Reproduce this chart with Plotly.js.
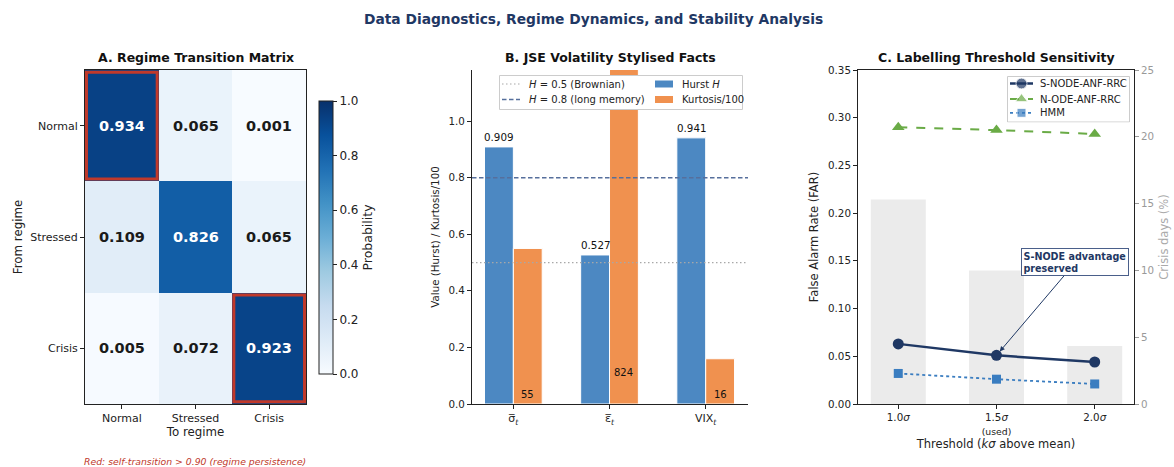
<!DOCTYPE html>
<html><head><meta charset="utf-8">
<script src="https://cdn.plot.ly/plotly-3.0.1.min.js"></script>
<style>html,body{margin:0;padding:0;background:#fff}#chart{width:1174px;height:467px}</style>
</head><body><div id="chart"></div>
<script>
// ---------- data ----------
const regimes = ['Normal', 'Stressed', 'Crisis'];
const transitionProbs = [
  [0.934, 0.065, 0.001],
  [0.109, 0.826, 0.065],
  [0.005, 0.072, 0.923]
];
const persistenceThreshold = 0.90;

const volSeriesLabels = ['σ\u0305<sub><i>t</i></sub>', 'ε\u0305<sub><i>t</i></sub>', 'VIX<sub><i>t</i></sub>'];
const hurstH = [0.909, 0.527, 0.941];
const kurtosis = [55, 824, 16];
const brownianH = 0.5;
const longMemoryH = 0.8;

const thresholdLabels = ['1.0<i>σ</i>', '1.5<i>σ</i><br><span style="font-size:9.3px">(used)</span>', '2.0<i>σ</i>'];
const crisisDaysPct = [15.3, 10.0, 4.35];
const farSNode = [0.063, 0.051, 0.044];
const farNOde = [0.290, 0.287, 0.283];
const farHMM = [0.032, 0.026, 0.021];
const modelNames = ['S-NODE-ANF-RRC', 'N-ODE-ANF-RRC', 'HMM'];

// ---------- layout helpers ----------
const W = 1174, H = 467;
const fx = p => p / W;
const fy = p => 1 - p / H;
const yDom = [fy(404), fy(70)];
const FONT = 'DejaVu Sans, Liberation Sans, sans-serif';
const NAVY = '#1f3864';
const RED = '#c0392b';
const C_HURST = '#4c88c2', C_KURT = '#f0914f';
const C_SNODE = NAVY, C_NODE = '#6aab46', C_HMM = '#3a7dc0';

const blues = [
  [0, '#f7fbff'], [0.125, '#deebf7'], [0.25, '#c6dbef'], [0.375, '#9ecae1'],
  [0.5, '#6baed6'], [0.625, '#4292c6'], [0.75, '#2171b5'], [0.875, '#08519c'], [1, '#08306b']
];

const idx3 = [0, 1, 2];
const bRange = [-0.43, 2.44];
const bYMax = 1.181;

const traces = [];
const ann = [];
const shapes = [];

// Panel A heatmap
traces.push({
  type: 'heatmap', x: idx3, y: idx3, z: transitionProbs,
  colorscale: blues, zmin: 0, zmax: 1, xaxis: 'x', yaxis: 'y',
  hoverinfo: 'skip', showscale: true,
  colorbar: {
    x: fx(319), xanchor: 'left', xpad: 0, ypad: 0,
    y: fy(237.5), yanchor: 'middle', len: 273 / H, lenmode: 'fraction',
    thickness: 14, thicknessmode: 'pixels',
    outlinewidth: 1, outlinecolor: '#222',
    ticks: 'outside', ticklen: 4, tickcolor: '#222',
    tickvals: [0, 0.2, 0.4, 0.6, 0.8, 1.0], tickformat: '.1f',
    tickfont: {size: 12, color: '#222'},
    title: {text: 'Probability', side: 'right', font: {size: 12.5, color: '#222'}}
  }
});

// Panel B bars
const barW = 0.3;
const barEdge = {color: '#ffffff', width: 1};
traces.push({
  type: 'bar', x: idx3, y: hurstH, width: barW, offset: -barW,
  marker: {color: C_HURST, line: barEdge},
  name: 'Hurst <i>H</i>', xaxis: 'x2', yaxis: 'y2', hoverinfo: 'skip'
});
traces.push({
  type: 'bar', x: idx3, y: kurtosis.map(k => k / 100), width: barW, offset: 0,
  marker: {color: C_KURT, line: barEdge},
  name: 'Kurtosis/100', xaxis: 'x2', yaxis: 'y2', hoverinfo: 'skip'
});
const brownStyle = {color: '#a8a8a8', dash: '1.5px,2.5px', width: 1.2};
const longStyle = {color: '#566f9c', dash: '4.5px,2.5px', width: 1.3};
traces.push({type: 'scatter', mode: 'lines', x: bRange, y: [brownianH, brownianH], line: brownStyle,
  xaxis: 'x2', yaxis: 'y2', hoverinfo: 'skip'});
traces.push({type: 'scatter', mode: 'lines', x: bRange, y: [longMemoryH, longMemoryH], line: longStyle,
  xaxis: 'x2', yaxis: 'y2', hoverinfo: 'skip'});

// Panel C
traces.push({
  type: 'bar', x: idx3, y: crisisDaysPct, width: 0.56,
  marker: {color: '#ebebeb'}, xaxis: 'x3', yaxis: 'y3', hoverinfo: 'skip'
});
const models = [
  {y: farSNode, line: {color: C_SNODE, width: 2.5}, marker: {symbol: 'circle', size: 11, color: C_SNODE}},
  {y: farNOde, line: {color: C_NODE, width: 2, dash: 'dash'}, marker: {symbol: 'triangle-up', size: 11, color: C_NODE}},
  {y: farHMM, line: {color: C_HMM, width: 1.8, dash: 'dot'}, marker: {symbol: 'square', size: 9, color: C_HMM}}
];
models.forEach((m, i) => traces.push({
  type: 'scatter', mode: 'lines+markers', x: idx3, y: m.y, line: m.line, marker: m.marker,
  name: modelNames[i], xaxis: 'x3', yaxis: 'y4', hoverinfo: 'skip'
}));

// ---------- custom legends (own invisible sub-axes in pixel units) ----------
const extraAxes = {};
function buildLegend(xn, yn, box, items) {
  const w = box.x1 - box.x0, h = box.y1 - box.y0;
  extraAxes['xaxis' + xn] = {domain: [fx(box.x0), fx(box.x1)], range: [0, w], visible: false, fixedrange: true, anchor: 'y' + yn};
  extraAxes['yaxis' + yn] = {domain: [fy(box.y1), fy(box.y0)], range: [h, 0], visible: false, fixedrange: true, anchor: 'x' + xn};
  shapes.push({type: 'rect', xref: 'x' + xn, yref: 'y' + yn, x0: 0.5, x1: w - 0.5, y0: 0.5, y1: h - 0.5, layer: 'below',
    fillcolor: 'rgba(255,255,255,0.82)', line: {color: '#cccccc', width: 1}});
  items.forEach(it => {
    const xm = (it.x0 + it.x1) / 2;
    const tr = {type: 'scatter', x: [it.x0, xm, it.x1], y: [it.y, it.y, it.y], line: it.line,
      xaxis: 'x' + xn, yaxis: 'y' + yn, hoverinfo: 'skip', cliponaxis: false};
    if (it.marker) { tr.mode = 'lines+markers'; tr.marker = Object.assign({}, it.marker, {size: [0, it.marker.size, 0]}); }
    else tr.mode = 'lines';
    traces.push(tr);
    ann.push({text: it.label, xref: 'x' + xn, yref: 'y' + yn, x: it.tx, y: it.y, xanchor: 'left', yanchor: 'middle',
      showarrow: false, font: {size: 10, color: '#222'}});
  });
}
buildLegend(4, 5, {x0: 499, x1: 743, y0: 75, y1: 110}, [
  {label: '<i>H</i> = 0.5 (Brownian)', x0: 3, x1: 21, tx: 28, y: 9, line: brownStyle},
  {label: '<i>H</i> = 0.8 (long memory)', x0: 3, x1: 21, tx: 28, y: 24.5, line: longStyle},
  {label: 'Hurst <i>H</i>', x0: 156, x1: 174, tx: 181, y: 9, line: {color: C_HURST, width: 7}},
  {label: 'Kurtosis/100', x0: 156, x1: 174, tx: 181, y: 24.5, line: {color: C_KURT, width: 7}}
]);
buildLegend(5, 6, {x0: 1007, x1: 1130, y0: 76, y1: 122.5}, models.map((m, i) => ({
  label: modelNames[i], x0: 3, x1: 26, tx: 31, y: [7.5, 23, 36.8][i],
  line: Object.assign({}, m.line), marker: m.marker
})));

// ---------- annotations & shapes ----------
ann.push({text: '<b>Data Diagnostics, Regime Dynamics, and Stability Analysis</b>', xref: 'paper', yref: 'paper',
  x: fx(593), y: fy(19), xanchor: 'center', yanchor: 'middle', showarrow: false, font: {size: 13.8, color: NAVY}});
[['<b>A. Regime Transition Matrix</b>', 195.5], ['<b>B. JSE Volatility Stylised Facts</b>', 610], ['<b>C. Labelling Threshold Sensitivity</b>', 996]]
  .forEach(([t, px]) => ann.push({text: t, xref: 'paper', yref: 'paper', x: fx(px), y: fy(57), xanchor: 'center', yanchor: 'middle',
    showarrow: false, font: {size: 12.5, color: '#111'}}));

transitionProbs.forEach((row, i) => row.forEach((p, j) => {
  ann.push({text: '<b>' + p.toFixed(3) + '</b>', xref: 'x', yref: 'y', x: j, y: i, showarrow: false,
    font: {size: 14.5, color: p > 0.5 ? '#ffffff' : '#1a1a1a'}});
  if (i === j && p > persistenceThreshold) {
    shapes.push({type: 'rect', xref: 'x', yref: 'y', x0: j - 0.48, x1: j + 0.48, y0: i - 0.48, y1: i + 0.48,
      line: {color: RED, width: 3}});
  }
}));
ann.push({text: '<i>Red: self-transition &gt; 0.90 (regime persistence)</i>', xref: 'paper', yref: 'paper',
  x: fx(195), y: fy(461), xanchor: 'center', yanchor: 'middle', showarrow: false, font: {size: 9.3, color: RED}});

hurstH.forEach((h, i) => ann.push({text: h.toFixed(3), xref: 'x2', yref: 'y2', x: i - barW / 2, y: h,
  yanchor: 'bottom', yshift: 2, showarrow: false, font: {size: 10.3, color: '#111'}}));
kurtosis.forEach((k, i) => ann.push({text: String(k), xref: 'x2', yref: 'y2', x: i + barW / 2,
  y: (k / 100 > bYMax) ? 0.113 : 0.035, yanchor: 'middle', showarrow: false, font: {size: 10, color: '#111'}}));

ann.push({text: '<b>S-NODE advantage<br>preserved</b>', xref: 'x3', yref: 'y4', x: 1, y: farSNode[1],
  ax: 79, ay: -93, showarrow: true, arrowhead: 2, arrowsize: 1, arrowwidth: 1, arrowcolor: NAVY, standoff: 5,
  align: 'left', bordercolor: '#4a5f8a', borderwidth: 1, borderpad: 1.5, bgcolor: '#ffffff',
  font: {size: 9.6, color: NAVY}});

// ---------- axes ----------
const axBase = {showline: true, linecolor: '#222', linewidth: 1, ticks: 'outside', ticklen: 4, tickcolor: '#222',
  zeroline: false, showgrid: false, fixedrange: true, tickfont: {size: 11, color: '#222'}};

const layout = Object.assign({
  width: W, height: H, margin: {l: 0, r: 0, t: 0, b: 0},
  paper_bgcolor: '#fff', plot_bgcolor: '#fff',
  font: {family: FONT, color: '#222'},
  barmode: 'overlay', showlegend: false,
  xaxis: Object.assign({}, axBase, {domain: [fx(85), fx(306)], range: [-0.5, 2.5], tickvals: idx3, ticktext: regimes,
    mirror: true, anchor: 'y', title: {text: 'To regime', font: {size: 11.8}, standoff: 3}}),
  yaxis: Object.assign({}, axBase, {domain: yDom, range: [2.5, -0.5], tickvals: idx3, ticktext: regimes,
    mirror: true, anchor: 'x', title: {text: 'From regime', font: {size: 11.8}, standoff: 5}}),
  xaxis2: Object.assign({}, axBase, {domain: [fx(472), fx(748)], range: bRange, tickvals: idx3, ticktext: volSeriesLabels,
    anchor: 'y2', tickfont: {size: 11, color: '#222'}}),
  yaxis2: Object.assign({}, axBase, {domain: yDom, range: [0, bYMax], tickvals: [0, 0.2, 0.4, 0.6, 0.8, 1.0], tickformat: '.1f',
    anchor: 'x2', tickfont: {size: 10.3, color: '#222'}, title: {text: 'Value (Hurst) / Kurtosis/100', font: {size: 10.3}, standoff: 6}}),
  xaxis3: Object.assign({}, axBase, {domain: [fx(858), fx(1134)], range: [-0.41, 2.40], tickvals: idx3, ticktext: thresholdLabels,
    mirror: true, anchor: 'y3', tickfont: {size: 10.3, color: '#222'},
    title: {text: 'Threshold (<i>kσ</i> above mean)', font: {size: 11.5}, standoff: 2}}),
  yaxis3: Object.assign({}, axBase, {domain: yDom, range: [0, 25], tickvals: [0, 5, 10, 15, 20, 25], side: 'right', anchor: 'x3',
    tickcolor: '#999', tickfont: {size: 10.3, color: '#999'}, title: {text: 'Crisis days (%)', font: {size: 11.5, color: '#aaa'}, standoff: 6}}),
  yaxis4: Object.assign({}, axBase, {range: [0, 0.35], tickvals: [0, 0.05, 0.1, 0.15, 0.2, 0.25, 0.3, 0.35], tickformat: '.2f',
    overlaying: 'y3', side: 'left', anchor: 'x3', tickfont: {size: 10.3, color: '#222'},
    title: {text: 'False Alarm Rate (FAR)', font: {size: 11.5}, standoff: 6}}),
  annotations: ann,
  shapes: shapes
}, extraAxes);

Plotly.newPlot('chart', traces, layout, {displayModeBar: false, staticPlot: true});
</script>
</body></html>
